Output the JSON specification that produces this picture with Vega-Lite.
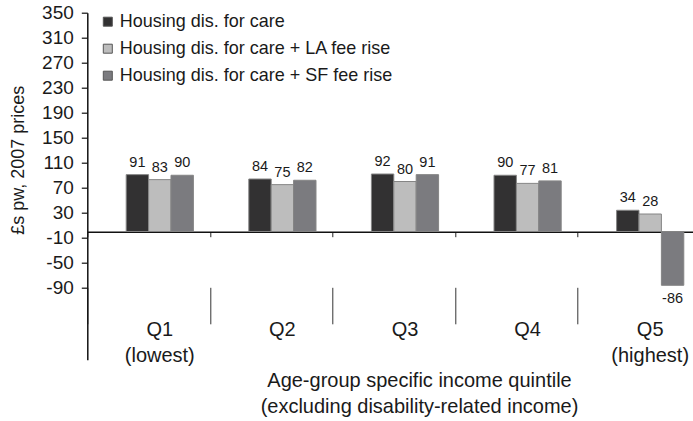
{
  "$schema": "https://vega.github.io/schema/vega-lite/v6.json",
  "width": 606,
  "height": 347,
  "autosize": {"type": "none"},
  "padding": {"left": 87.3, "top": 12.7, "right": 0, "bottom": 61.3},
  "config": {
    "view": {"stroke": null},
    "font": "Liberation Sans",
    "text": {"color": "#1a1a1a"},
    "axisY": {"labelOverlap": false, "labelFlush": false, "labelBound": false}
  },
  "datasets": {
    "bars": [
      {"q": "Q1", "series": "Housing dis. for care", "v": 91},
      {"q": "Q1", "series": "Housing dis. for care + LA fee rise", "v": 83},
      {"q": "Q1", "series": "Housing dis. for care + SF fee rise", "v": 90},
      {"q": "Q2", "series": "Housing dis. for care", "v": 84},
      {"q": "Q2", "series": "Housing dis. for care + LA fee rise", "v": 75},
      {"q": "Q2", "series": "Housing dis. for care + SF fee rise", "v": 82},
      {"q": "Q3", "series": "Housing dis. for care", "v": 92},
      {"q": "Q3", "series": "Housing dis. for care + LA fee rise", "v": 80},
      {"q": "Q3", "series": "Housing dis. for care + SF fee rise", "v": 91},
      {"q": "Q4", "series": "Housing dis. for care", "v": 90},
      {"q": "Q4", "series": "Housing dis. for care + LA fee rise", "v": 77},
      {"q": "Q4", "series": "Housing dis. for care + SF fee rise", "v": 81},
      {"q": "Q5", "series": "Housing dis. for care", "v": 34},
      {"q": "Q5", "series": "Housing dis. for care + LA fee rise", "v": 28},
      {"q": "Q5", "series": "Housing dis. for care + SF fee rise", "v": -86}
    ],
    "cats": [
      {"q": "Q1", "label": "Q1\n(lowest)"},
      {"q": "Q2", "label": "Q2"},
      {"q": "Q3", "label": "Q3"},
      {"q": "Q4", "label": "Q4"},
      {"q": "Q5", "label": "Q5\n(highest)"}
    ]
  },
  "resolve": {"axis": {"x": "independent"}},
  "layer": [
    {
      "data": {"name": "bars"},
      "encoding": {
        "x": {
          "field": "q", "type": "nominal", "sort": null,
          "scale": {"paddingInner": 0, "paddingOuter": 0, "range": [0, 613]},
          "axis": {
            "orient": "bottom", "offset": -128, "title": null, "labels": false,
            "tickBand": "extent", "tickSize": 5, "tickColor": "#222", "tickWidth": 1,
            "domainColor": "#111", "domainWidth": 1.5
          }
        },
        "xOffset": {
          "field": "series", "type": "nominal",
          "scale": {"domain": ["_pad", "Housing dis. for care", "Housing dis. for care + LA fee rise", "Housing dis. for care + SF fee rise"], "paddingInner": 0, "paddingOuter": 0.737}
        },
        "y": {
          "field": "v", "type": "quantitative",
          "scale": {"domain": [-205, 350], "nice": false, "zero": false},
          "axis": {
            "values": [-90, -50, -10, 30, 70, 110, 150, 190, 230, 270, 310, 350],
            "labelExpr": "datum.value < 0 ? '-' + abs(datum.value) : '' + datum.value",
            "labelOverlap": false,
            "grid": false, "tickSize": 6, "tickColor": "#111", "tickWidth": 1.2,
            "domainColor": "#111", "domainWidth": 1.5,
            "labelFontSize": 19, "labelColor": "#1a1a1a", "labelPadding": 8,
            "title": "£s pw, 2007 prices", "titleFontSize": 18, "titleFontWeight": "normal",
            "titleColor": "#1a1a1a", "titleX": -69, "titleY": 147, "titleAngle": -90,
            "titleAlign": "center", "titleBaseline": "middle"
          }
        }
      },
      "layer": [
        {
          "mark": {"type": "bar", "stroke": "#858585", "strokeWidth": 1},
          "encoding": {
            "color": {
              "field": "series", "type": "nominal",
              "scale": {
                "domain": ["Housing dis. for care", "Housing dis. for care + LA fee rise", "Housing dis. for care + SF fee rise"],
                "range": ["#323132", "#bdbdbd", "#7b7b7f"]
              },
              "legend": {
                "title": null, "orient": "none", "legendX": 11.5, "legendY": 0,
                "symbolType": "square", "symbolSize": 81, "symbolStrokeColor": "#555",
                "symbolStrokeWidth": 1, "labelFontSize": 18, "labelColor": "#1a1a1a",
                "labelOffset": 3, "rowPadding": 9, "padding": 0, "labelLimit": 400
              }
            }
          }
        },
        {
          "transform": [{"filter": "datum.v >= 0"}],
          "mark": {"type": "text", "baseline": "alphabetic", "dy": -8, "fontSize": 14.5},
          "encoding": {"text": {"field": "v", "type": "nominal"}}
        },
        {
          "transform": [{"filter": "datum.v < 0"}],
          "mark": {"type": "text", "baseline": "alphabetic", "dy": 17.6, "fontSize": 14.5},
          "encoding": {"text": {"field": "v", "type": "nominal"}}
        }
      ]
    },
    {
      "data": {"name": "cats"},
      "mark": {"type": "text", "lineBreak": "\n", "baseline": "alphabetic", "fontSize": 20, "lineHeight": 26},
      "encoding": {
        "x": {
          "field": "q", "type": "nominal", "sort": null,
          "axis": {
            "orient": "bottom", "offset": -72.4, "labels": false, "domain": false,
            "tickBand": "extent", "tickSize": 36.5, "tickColor": "#333", "tickWidth": 1,
            "title": ["Age-group specific income quintile", "(excluding disability-related income)"],
            "titleFontSize": 20, "titleFontWeight": "normal", "titleColor": "#1a1a1a",
            "titleLineHeight": 26, "titleX": 331.7, "titleY": 93.7,
            "titleAlign": "center", "titleBaseline": "middle"
          }
        },
        "xOffset": {"datum": "Housing dis. for care + LA fee rise"},
        "y": {
          "datum": -167.5,
          "axis": {
            "values": [-90, -50, -10, 30, 70, 110, 150, 190, 230, 270, 310, 350],
            "labelExpr": "datum.value < 0 ? '-' + abs(datum.value) : '' + datum.value",
            "labelOverlap": false,
            "grid": false, "tickSize": 6, "tickColor": "#111", "tickWidth": 1.2,
            "domainColor": "#111", "domainWidth": 1.5,
            "labelFontSize": 19, "labelColor": "#1a1a1a", "labelPadding": 8,
            "title": "£s pw, 2007 prices", "titleFontSize": 18, "titleFontWeight": "normal",
            "titleColor": "#1a1a1a", "titleX": -69, "titleY": 147, "titleAngle": -90,
            "titleAlign": "center", "titleBaseline": "middle"
          }
        },
        "text": {"field": "label"}
      }
    }
  ]
}
